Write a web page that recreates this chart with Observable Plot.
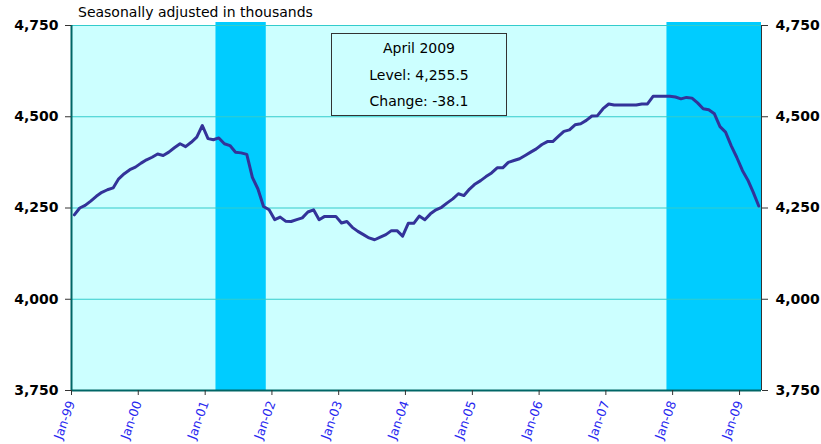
<!DOCTYPE html>
<html>
<head>
<meta charset="utf-8">
<script src="https://cdn.jsdelivr.net/npm/d3@7"></script>
<script src="https://cdn.jsdelivr.net/npm/@observablehq/plot@0.6"></script>
<style>
  body { margin: 0; background: #fff; }
  #wrap { position: relative; width: 821px; height: 444px; font-family: "DejaVu Sans", sans-serif; }
  #sub { position: absolute; left: 78px; top: 4px; font-size: 14px; line-height: 16px; color: #000; white-space: nowrap; }
  #box { position: absolute; left: 331px; top: 33px; width: 176px; height: 83px; box-sizing: border-box;
         border: 1px solid #333; text-align: center; font-size: 14px; line-height: 26.5px; padding-top: 1px; color: #000; }
  svg [aria-label="y-axis tick label"] { font-weight: bold; font-size: 14px; }
</style>
</head>
<body>
<div id="wrap">
  <div id="chart"></div>
  <div id="sub"></div>
  <div id="box"></div>
</div>
<script>
// ---- data (monthly, Jan 1999 – Apr 2009), seasonally adjusted, thousands ----
const firstMonth = "1999-01-01";
const values = [
  // 1999
  4231, 4250, 4257, 4269, 4282, 4293, 4300, 4305, 4330, 4344, 4355, 4362,
  // 2000
  4373, 4382, 4389, 4398, 4394, 4403, 4415, 4426, 4418, 4430, 4444, 4476,
  // 2001
  4440, 4437, 4442, 4426, 4421, 4403, 4401, 4397, 4334, 4302, 4254, 4245,
  // 2002
  4218, 4225, 4214, 4213, 4218, 4223, 4239, 4245, 4218, 4227, 4227, 4227,
  // 2003
  4209, 4213, 4197, 4186, 4177, 4168, 4163, 4170, 4177, 4188, 4188, 4173,
  // 2004
  4208, 4208, 4228, 4218, 4234, 4245, 4252, 4264, 4275, 4289, 4284, 4302,
  // 2005
  4316, 4325, 4336, 4346, 4360, 4360, 4375, 4380, 4385, 4394, 4403, 4412,
  // 2006
  4424, 4432, 4432, 4446, 4460, 4464, 4478, 4481, 4490, 4502, 4503, 4522,
  // 2007
  4535, 4532, 4532, 4532, 4532, 4532, 4535, 4535, 4556, 4556, 4556, 4556,
  // 2008
  4554, 4549, 4553, 4551, 4538, 4522, 4519, 4508, 4473, 4458, 4421, 4389,
  // 2009
  4353, 4327, 4293.6, 4255.5
];
const recessionStarts = ["2001-03-01", "2007-12-01"];
const recessionEnds   = ["2001-12-01", "2009-05-01"];
const yTicks = [3750, 4000, 4250, 4500, 4750];
const tickYears = [1999, 2000, 2001, 2002, 2003, 2004, 2005, 2006, 2007, 2008, 2009];
const subtitle = "Seasonally adjusted in thousands";

// ---- build tables ----
const parse = d3.utcParse("%Y-%m-%d");
const first = parse(firstMonth);
const data = values.map((v, i) => {
  const m0 = d3.utcMonth.offset(first, i), m1 = d3.utcMonth.offset(first, i + 1);
  return { month: m0, date: new Date((+m0 + +m1) / 2), value: v };
});
const recessions = recessionStarts.map((s, i) => ({ start: parse(s), end: parse(recessionEnds[i]) }));
const xDomain = [first, d3.utcMonth.offset(first, values.length)];
const tickDates = tickYears.map(y => new Date(Date.UTC(y, 0, 1)));
const loc = d3.formatLocale({ decimal: ".", thousands: ",", grouping: [3], currency: ["$", ""], minus: "-" });

const chart = Plot.plot({
  width: 821, height: 444,
  marginLeft: 71, marginRight: 60, marginTop: 25, marginBottom: 54,
  style: { fontFamily: "DejaVu Sans", fontSize: "12px", background: "white", overflow: "visible" },
  x: { type: "utc", domain: xDomain },
  y: { domain: [yTicks[0], yTicks[yTicks.length - 1]] },
  marks: [
    Plot.frame({ fill: "#CCFFFF", stroke: null }),
    Plot.rect(recessions, { x1: "start", x2: "end", fill: "#00CCFF", insetTop: -3 }),
    Plot.ruleY(yTicks.slice(1), { stroke: "#33CCCC", strokeWidth: 1.2 }),
    Plot.line(data, { x: "date", y: "value", stroke: "#333399", strokeWidth: 3, strokeLinejoin: "round" }),
    Plot.ruleX([xDomain[0]], { stroke: "#006666", strokeWidth: 2 }),
    Plot.ruleX([xDomain[1]], { stroke: "#333333", strokeWidth: 1 }),
    Plot.ruleY([yTicks[0]], { stroke: "#006666", strokeWidth: 2 }),
    Plot.axisY({ anchor: "left", ticks: yTicks, tickFormat: loc.format(","), tickSize: 6, tickPadding: 7,
                 fontSize: 14, fontWeight: "bold", fill: "#000", stroke: "#333", label: null }),
    Plot.axisY({ anchor: "right", ticks: yTicks, tickFormat: loc.format(","), tickSize: 6, tickPadding: 8,
                 fontSize: 14, fontWeight: "bold", fill: "#000", stroke: "#333", label: null }),
    Plot.axisX({ ticks: tickDates, tickFormat: d3.utcFormat("%b-%y"), tickRotate: -70, tickSize: 5, tickPadding: 6,
                 fontSize: 12.5, fill: "#2828F0", stroke: "#333", label: null })
  ]
});
document.getElementById("chart").append(chart);

// ---- text overlays ----
document.getElementById("sub").textContent = subtitle;
const last = data[data.length - 1], prev = data[data.length - 2];
const box = document.getElementById("box");
[d3.utcFormat("%B %Y")(last.month),
 "Level: " + loc.format(",.1f")(last.value),
 "Change: " + loc.format(".1f")(last.value - prev.value)].forEach(t => {
  const d = document.createElement("div"); d.textContent = t; box.append(d);
});
</script>
</body>
</html>
